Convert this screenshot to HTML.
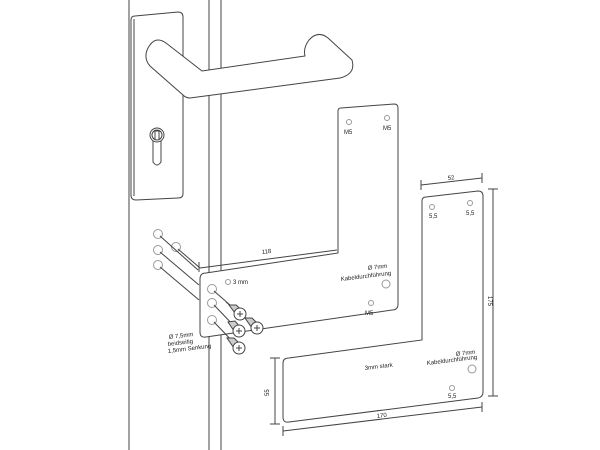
<!DOCTYPE html>
<html><head><meta charset="utf-8"><style>
html,body{margin:0;padding:0;background:#fff;}
svg{display:block;}
text{font-family:"Liberation Sans",Arial,sans-serif;fill:#222;}
</style></head><body>
<svg width="600" height="450" viewBox="0 0 600 450" xmlns="http://www.w3.org/2000/svg">
<g stroke="#444" stroke-width="1" fill="none">
<line x1="129" y1="0" x2="129" y2="450"/>
<line x1="209" y1="0" x2="209" y2="450"/>
<line x1="221" y1="0" x2="221" y2="450"/>
<path d="M135 16 L178 12 Q183 12 183 17 L183 194 Q183 198 178 198 L136 200 Q131 200 131 195 L131 20 Q131 16 135 16 Z" fill="#fff"/>
<path d="M134 19 L134 196"/>
<path d="M190 98 L340 78 Q356 74 352 60 L328 38 Q318 30 309 40 Q303 48 305 56 L202 71 L166 43 Q155 35 148 48 Q143 58 150 66 L183 95 Q186 98 190 98 Z" fill="#fff"/>
<circle cx="157" cy="135" r="7" fill="#fff"/>
<circle cx="157" cy="135" r="5"/>
<path d="M153 141 L153 162 Q157 168 161 162 L161 141"/>
<path d="M155 131 L155 139 M159 131 L159 139 M155 131 L159 131"/>
<path d="M341 108 L394 104 Q398 104 398 108 L398 304 Q398 310 392 310 L206 337 Q200 338 200 332 L200 279 Q200 273 206 273 L338 253 L338 111 Q338 108 341 108 Z" fill="#fff"/>
<line x1="200" y1="268" x2="337" y2="250"/>
<line x1="199" y1="262" x2="199" y2="272"/>
<g stroke="#999">
<circle cx="349" cy="122" r="2.5"/>
<circle cx="387" cy="118" r="2.5"/>
<circle cx="386" cy="284" r="4"/>
<circle cx="371" cy="303" r="2.5"/>
<circle cx="228" cy="282" r="2.5"/>
<circle cx="212" cy="289" r="4.5"/>
<circle cx="212" cy="303" r="4.5"/>
<circle cx="212" cy="320" r="4.5"/>
<circle cx="158" cy="234" r="4.5"/>
<circle cx="158" cy="250" r="4.5"/>
<circle cx="176" cy="247" r="4.5"/>
<circle cx="158" cy="265" r="4.5"/>
</g>
<line x1="160" y1="236" x2="198" y2="270"/>
<line x1="178" y1="249" x2="200" y2="268"/>
<line x1="160" y1="252" x2="199" y2="285"/>
<line x1="160" y1="267" x2="199" y2="300"/>
<line x1="214" y1="291" x2="238" y2="312"/>
<line x1="214" y1="305" x2="236" y2="328"/>
<line x1="214" y1="322" x2="236" y2="345"/>
<line x1="226" y1="302" x2="254" y2="325"/>
<g fill="#fff">
<path d="M229 305 L236 305 L244 312 L238 317 Z" fill="#ccc"/>
<path d="M228 322 L235 321 L242 329 L236 334 Z" fill="#ccc"/>
<path d="M245 318 L252 318 L260 326 L254 331 Z" fill="#ccc"/>
<path d="M227 338 L234 338 L242 346 L236 351 Z" fill="#ccc"/>
<circle cx="240" cy="314" r="6"/>
<circle cx="239" cy="331" r="6"/>
<circle cx="257" cy="328" r="6"/>
<circle cx="239" cy="348" r="6"/>
</g>
<path d="M237 314 h6 M240 311 v6 M236 331 h6 M239 328 v6 M254 328 h6 M257 325 v6 M236 348 h6 M239 345 v6"/>
<path d="M426 197 L478 191 Q483 191 483 196 L483 392 Q483 397 478 398 L289 422 Q283 423 283 417 L283 363 Q283 358 289 358 L422 340 L422 201 Q422 197 426 197 Z" fill="#fff"/>
<line x1="421" y1="185" x2="482" y2="178"/>
<line x1="421" y1="180" x2="421" y2="190"/>
<line x1="482" y1="173" x2="482" y2="183"/>
<line x1="493" y1="189" x2="493" y2="396"/>
<line x1="488" y1="189" x2="498" y2="189"/>
<line x1="488" y1="396" x2="498" y2="396"/>
<line x1="275" y1="358" x2="275" y2="424"/>
<line x1="270" y1="358" x2="280" y2="358"/>
<line x1="270" y1="424" x2="280" y2="424"/>
<line x1="283" y1="431" x2="482" y2="407"/>
<line x1="283" y1="426" x2="283" y2="436"/>
<line x1="482" y1="402" x2="482" y2="412"/>
<g stroke="#999">
<circle cx="432" cy="207" r="2.5"/>
<circle cx="470" cy="203" r="2.5"/>
<circle cx="472" cy="369" r="4"/>
<circle cx="452" cy="388" r="2.5"/>
</g>
</g>
<g font-size="6">
<text x="344" y="134">M5</text>
<text x="383" y="130">M5</text>
<text x="262" y="254" transform="rotate(-7 262 254)">118</text>
<text x="368" y="270" transform="rotate(-7 368 270)">Ø 7mm</text>
<text x="341" y="281" transform="rotate(-7 341 281)">Kabeldurchführung</text>
<text x="365" y="315">M5</text>
<text x="233" y="284" fill="#666">3 mm</text>
<text x="169" y="339" transform="rotate(-7 169 339)">Ø 7,5mm</text>
<text x="168" y="346" transform="rotate(-7 168 346)">beidseitig</text>
<text x="168" y="353" transform="rotate(-7 168 353)">1,5mm Senkung</text>
<text x="448" y="180" transform="rotate(-7 448 180)">52</text>
<text x="429" y="218">5,5</text>
<text x="466" y="215">5,5</text>
<text x="488" y="296" transform="rotate(90 488 296)">175</text>
<text x="269" y="396" transform="rotate(-90 269 396)">55</text>
<text x="365" y="370" transform="rotate(-7 365 370)">3mm stark</text>
<text x="456" y="356" transform="rotate(-7 456 356)">Ø 7mm</text>
<text x="427" y="365" transform="rotate(-7 427 365)">Kabeldurchführung</text>
<text x="448" y="398">5,5</text>
<text x="377" y="418" transform="rotate(-7 377 418)">170</text>
</g>
</svg>
</body></html>
